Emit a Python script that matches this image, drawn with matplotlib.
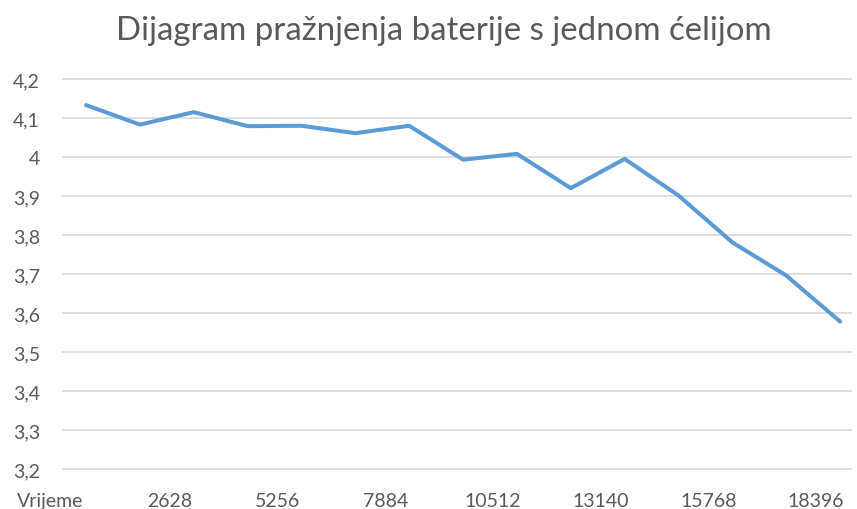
import numpy as np
import matplotlib
matplotlib.use("Agg")
import matplotlib.pyplot as plt
from matplotlib.transforms import ScaledTranslation

# data
napon = [4.133, 4.083, 4.115, 4.079, 4.080, 4.061, 4.080, 3.993,
         4.008, 3.920, 3.995, 3.901, 3.781, 3.696, 3.578]
x_labels = ["Vrijeme", "2628", "5256", "7884", "10512", "13140", "15768", "18396"]
y_ticks = [3.2, 3.3, 3.4, 3.5, 3.6, 3.7, 3.8, 3.9, 4.0, 4.1, 4.2]

plt.rcParams["font.family"] = ["Lato", "DejaVu Sans"]
grey = "#595959"

fig = plt.figure(figsize=(8.57, 5.10), dpi=100)
W, H = 857, 510
ax = fig.add_axes([62 / W, 1 - 472 / H, (852 - 62) / W, (472 - 78) / H])

x = np.arange(len(napon))
ax.plot(x, napon, color="#5B9BD5", lw=2.9, solid_joinstyle="round",
        solid_capstyle="round", zorder=3)

ax.set_xlim(-0.446, 14.22)
ax.set_ylim(3.195, 4.205)

ax.set_yticks(y_ticks)
ax.set_yticklabels([f"{v:g}".replace(".", ",") for v in y_ticks])
ax.set_xticks(np.arange(len(x_labels)) * 2 - 0.446)
ax.set_xticklabels(x_labels)

ax.grid(axis="y", color="#D9D9D9", lw=1.2)
ax.set_axisbelow(True)
for s in ax.spines.values():
    s.set_visible(False)
ax.tick_params(axis="both", length=0, colors=grey, labelsize=14)
ax.tick_params(axis="y", pad=16)
ax.tick_params(axis="x", pad=15)

# first label sits a bit left in the original
first = ax.get_xticklabels()[0]
first.set_transform(first.get_transform() + ScaledTranslation(-12 / 100, 0, fig.dpi_scale_trans))

fig.text(444 / W, 1 - 31 / H, "Dijagram pražnjenja baterije s jednom ćelijom",
         ha="center", va="center", fontsize=23.8, color=grey)

fig.savefig("out.png", dpi=100, facecolor="white")
